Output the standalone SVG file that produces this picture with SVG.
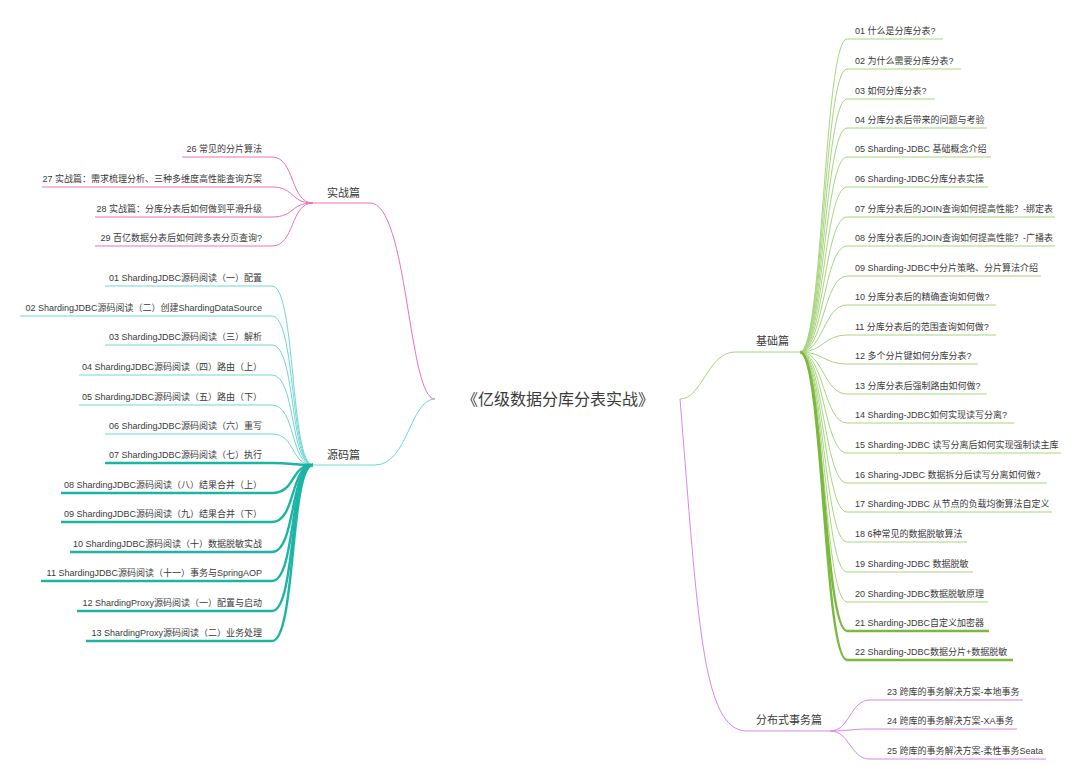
<svg xmlns="http://www.w3.org/2000/svg" width="1080" height="780" viewBox="0 0 1080 780">
<style>
text{font-family:"Liberation Sans","Noto Sans CJK SC",sans-serif;fill:#3a3a3a}
.it{font-size:9px}
.cat{font-size:11px}
.title{font-size:16px;text-anchor:middle}
.r{text-anchor:end}
line,path{fill:none}
.pk{stroke:#ec72b8;stroke-width:1}
.tl{stroke:#6fd8ce;stroke-width:1}
.tk{stroke:#1cb5a5;stroke-width:2.4}
.gl{stroke:#a8d57e;stroke-width:1}
.gk{stroke:#7ab83f;stroke-width:2.4}
.mg{stroke:#dc86e6;stroke-width:1}
</style>
<rect width="1080" height="780" fill="#ffffff"/>

<g id="connectors">
  <path class="pk" d="M435,399 C408,399 408,203 370,203"/>
  <path class="tl" d="M435,399 C410,399 408,465 375,465"/>
  <path class="gl" d="M680,399 C702,399 708,352 735,352"/>
  <path class="mg" d="M680,399 C698,620 702,731 747,731"/>
  <path class="pk" d="M272,157 C295,157 290,203 313,203"/>
  <path class="pk" d="M272,187 C295,187 290,203 313,203"/>
  <path class="pk" d="M272,217 C295,217 290,203 313,203"/>
  <path class="pk" d="M272,246 C295,246 290,203 313,203"/>
  <path class="tl" d="M272,286 C296,286 290,465 313,465"/>
  <path class="tl" d="M272,316 C296,316 290,465 313,465"/>
  <path class="tl" d="M272,345 C296,345 290,465 313,465"/>
  <path class="tl" d="M272,375 C296,375 290,465 313,465"/>
  <path class="tl" d="M272,405 C296,405 290,465 313,465"/>
  <path class="tl" d="M272,434 C296,434 290,465 313,465"/>
  <path class="tk" d="M272,463 C292,463 293,465 313,465"/>
  <path class="tk" d="M272,493 C296,493 290,465 313,465"/>
  <path class="tk" d="M272,522 C296,522 290,465 313,465"/>
  <path class="tk" d="M272,552 C296,552 290,465 313,465"/>
  <path class="tk" d="M272,581 C296,581 290,465 313,465"/>
  <path class="tk" d="M272,611 C296,611 290,465 313,465"/>
  <path class="tk" d="M272,641 C296,641 290,465 313,465"/>
  <path class="gl" d="M800,352 C823,352 824,39 847,39"/>
  <path class="gl" d="M800,352 C823,352 824,69 847,69"/>
  <path class="gl" d="M800,352 C823,352 824,99 847,99"/>
  <path class="gl" d="M800,352 C823,352 824,128 847,128"/>
  <path class="gl" d="M800,352 C823,352 824,157 847,157"/>
  <path class="gl" d="M800,352 C823,352 824,187 847,187"/>
  <path class="gl" d="M800,352 C823,352 824,217 847,217"/>
  <path class="gl" d="M800,352 C823,352 824,246 847,246"/>
  <path class="gl" d="M800,352 C823,352 824,276 847,276"/>
  <path class="gl" d="M800,352 C823,352 824,305 847,305"/>
  <path class="gl" d="M800,352 C823,352 824,335 847,335"/>
  <path class="gl" d="M800,352 C823,352 824,364 847,364"/>
  <path class="gl" d="M800,352 C823,352 824,394 847,394"/>
  <path class="gl" d="M800,352 C823,352 824,423 847,423"/>
  <path class="gl" d="M800,352 C823,352 824,453 847,453"/>
  <path class="gl" d="M800,352 C823,352 824,483 847,483"/>
  <path class="gl" d="M800,352 C823,352 824,512 847,512"/>
  <path class="gl" d="M800,352 C823,352 824,542 847,542"/>
  <path class="gl" d="M800,352 C823,352 824,572 847,572"/>
  <path class="gl" d="M800,352 C823,352 824,602 847,602"/>
  <path class="gk" d="M800,352 C823,352 824,631 847,631"/>
  <path class="gk" d="M800,352 C823,352 824,660 847,660"/>
  <path class="mg" d="M830,731 C850,731 850,700 870,700"/>
  <path class="mg" d="M830,731 C850,731 850,729 870,729"/>
  <path class="mg" d="M830,731 C850,731 850,759 870,759"/>
</g>

<g id="root">
  <text class="title" x="558" y="405">《亿级数据分库分表实战》</text>
</g>

<g id="cat-shizhan">
  <line class="pk" x1="313" y1="203" x2="370" y2="203"/>
  <text class="cat" x="327" y="197">实战篇</text>
</g>
<g id="cat-yuanma">
  <line class="tl" x1="313" y1="465" x2="375" y2="465"/>
  <text class="cat" x="327" y="459">源码篇</text>
</g>
<g id="cat-jichu">
  <line class="gl" x1="735" y1="352" x2="800" y2="352"/>
  <text class="cat" x="756" y="345">基础篇</text>
</g>
<g id="cat-fenbushi">
  <line class="mg" x1="747" y1="731" x2="830" y2="731"/>
  <text class="cat" x="756" y="724">分布式事务篇</text>
</g>

<g id="sz26"><line class="pk" x1="182" y1="157" x2="272" y2="157"/><text class="it r" x="262" y="152">26 常见的分片算法</text></g>
<g id="sz27"><line class="pk" x1="42" y1="187" x2="272" y2="187"/><text class="it r" x="262" y="182">27 实战篇：需求梳理分析、三种多维度高性能查询方案</text></g>
<g id="sz28"><line class="pk" x1="95" y1="217" x2="272" y2="217"/><text class="it r" x="262" y="212">28 实战篇：分库分表后如何做到平滑升级</text></g>
<g id="sz29"><line class="pk" x1="95" y1="246" x2="272" y2="246"/><text class="it r" x="262" y="241">29 百亿数据分表后如何跨多表分页查询?</text></g>

<g id="ym01"><line class="tl" x1="105" y1="286" x2="272" y2="286"/><text class="it r" x="262" y="281">01 ShardingJDBC源码阅读（一）配置</text></g>
<g id="ym02"><line class="tl" x1="20" y1="316" x2="272" y2="316"/><text class="it r" x="262" y="311">02 ShardingJDBC源码阅读（二）创建ShardingDataSource</text></g>
<g id="ym03"><line class="tl" x1="105" y1="345" x2="272" y2="345"/><text class="it r" x="262" y="340">03 ShardingJDBC源码阅读（三）解析</text></g>
<g id="ym04"><line class="tl" x1="79" y1="375" x2="272" y2="375"/><text class="it r" x="262" y="370">04 ShardingJDBC源码阅读（四）路由（上）</text></g>
<g id="ym05"><line class="tl" x1="79" y1="405" x2="272" y2="405"/><text class="it r" x="262" y="400">05 ShardingJDBC源码阅读（五）路由（下）</text></g>
<g id="ym06"><line class="tl" x1="105" y1="434" x2="272" y2="434"/><text class="it r" x="262" y="429">06 ShardingJDBC源码阅读（六）重写</text></g>
<g id="ym07"><line class="tk" x1="105" y1="463" x2="272" y2="463"/><text class="it r" x="262" y="458">07 ShardingJDBC源码阅读（七）执行</text></g>
<g id="ym08"><line class="tk" x1="61" y1="493" x2="272" y2="493"/><text class="it r" x="262" y="488">08 ShardingJDBC源码阅读（八）结果合并（上）</text></g>
<g id="ym09"><line class="tk" x1="61" y1="522" x2="272" y2="522"/><text class="it r" x="262" y="517">09 ShardingJDBC源码阅读（九）结果合并（下）</text></g>
<g id="ym10"><line class="tk" x1="70" y1="552" x2="272" y2="552"/><text class="it r" x="262" y="547">10 ShardingJDBC源码阅读（十）数据脱敏实战</text></g>
<g id="ym11"><line class="tk" x1="41" y1="581" x2="272" y2="581"/><text class="it r" x="262" y="576">11 ShardingJDBC源码阅读（十一）事务与SpringAOP</text></g>
<g id="ym12"><line class="tk" x1="77" y1="611" x2="272" y2="611"/><text class="it r" x="262" y="606">12 ShardingProxy源码阅读（一）配置与启动</text></g>
<g id="ym13"><line class="tk" x1="86" y1="641" x2="272" y2="641"/><text class="it r" x="262" y="636">13 ShardingProxy源码阅读（二）业务处理</text></g>

<g id="jc01"><line class="gl" x1="847" y1="39" x2="943" y2="39"/><text class="it" x="855" y="34">01 什么是分库分表?</text></g>
<g id="jc02"><line class="gl" x1="847" y1="69" x2="961" y2="69"/><text class="it" x="855" y="64">02 为什么需要分库分表?</text></g>
<g id="jc03"><line class="gl" x1="847" y1="99" x2="935" y2="99"/><text class="it" x="855" y="94">03 如何分库分表?</text></g>
<g id="jc04"><line class="gl" x1="847" y1="128" x2="987" y2="128"/><text class="it" x="855" y="123">04 分库分表后带来的问题与考验</text></g>
<g id="jc05"><line class="gl" x1="847" y1="157" x2="991" y2="157"/><text class="it" x="855" y="152">05 Sharding-JDBC 基础概念介绍</text></g>
<g id="jc06"><line class="gl" x1="847" y1="187" x2="988" y2="187"/><text class="it" x="855" y="182">06 Sharding-JDBC分库分表实操</text></g>
<g id="jc07"><line class="gl" x1="847" y1="217" x2="1055" y2="217"/><text class="it" x="855" y="212">07 分库分表后的JOIN查询如何提高性能？-绑定表</text></g>
<g id="jc08"><line class="gl" x1="847" y1="246" x2="1055" y2="246"/><text class="it" x="855" y="241">08 分库分表后的JOIN查询如何提高性能？-广播表</text></g>
<g id="jc09"><line class="gl" x1="847" y1="276" x2="1041" y2="276"/><text class="it" x="855" y="271">09 Sharding-JDBC中分片策略、分片算法介绍</text></g>
<g id="jc10"><line class="gl" x1="847" y1="305" x2="996" y2="305"/><text class="it" x="855" y="300">10 分库分表后的精确查询如何做?</text></g>
<g id="jc11"><line class="gl" x1="847" y1="335" x2="996" y2="335"/><text class="it" x="855" y="330">11 分库分表后的范围查询如何做?</text></g>
<g id="jc12"><line class="gl" x1="847" y1="364" x2="978" y2="364"/><text class="it" x="855" y="359">12 多个分片键如何分库分表?</text></g>
<g id="jc13"><line class="gl" x1="847" y1="394" x2="987" y2="394"/><text class="it" x="855" y="389">13 分库分表后强制路由如何做?</text></g>
<g id="jc14"><line class="gl" x1="847" y1="423" x2="1014" y2="423"/><text class="it" x="855" y="418">14 Sharding-JDBC如何实现读写分离?</text></g>
<g id="jc15"><line class="gl" x1="847" y1="453" x2="1061" y2="453"/><text class="it" x="855" y="448">15 Sharding-JDBC 读写分离后如何实现强制读主库</text></g>
<g id="jc16"><line class="gl" x1="847" y1="483" x2="1047" y2="483"/><text class="it" x="855" y="478">16 Sharing-JDBC 数据拆分后读写分离如何做?</text></g>
<g id="jc17"><line class="gl" x1="847" y1="512" x2="1052" y2="512"/><text class="it" x="855" y="507">17 Sharding-JDBC 从节点的负载均衡算法自定义</text></g>
<g id="jc18"><line class="gl" x1="847" y1="542" x2="967" y2="542"/><text class="it" x="855" y="537">18 6种常见的数据脱敏算法</text></g>
<g id="jc19"><line class="gl" x1="847" y1="572" x2="973" y2="572"/><text class="it" x="855" y="567">19 Sharding-JDBC 数据脱敏</text></g>
<g id="jc20"><line class="gl" x1="847" y1="602" x2="988" y2="602"/><text class="it" x="855" y="597">20 Sharding-JDBC数据脱敏原理</text></g>
<g id="jc21"><line class="gk" x1="847" y1="631" x2="989" y2="631"/><text class="it" x="855" y="626">21 Sharding-JDBC自定义加密器</text></g>
<g id="jc22"><line class="gk" x1="847" y1="660" x2="1013" y2="660"/><text class="it" x="855" y="655">22 Sharding-JDBC数据分片+数据脱敏</text></g>

<g id="fb23"><line class="mg" x1="870" y1="700" x2="1023" y2="700"/><text class="it" x="887" y="695">23 跨库的事务解决方案-本地事务</text></g>
<g id="fb24"><line class="mg" x1="870" y1="729" x2="1017" y2="729"/><text class="it" x="887" y="724">24 跨库的事务解决方案-XA事务</text></g>
<g id="fb25"><line class="mg" x1="870" y1="759" x2="1046" y2="759"/><text class="it" x="887" y="754">25 跨库的事务解决方案-柔性事务Seata</text></g>
</svg>
